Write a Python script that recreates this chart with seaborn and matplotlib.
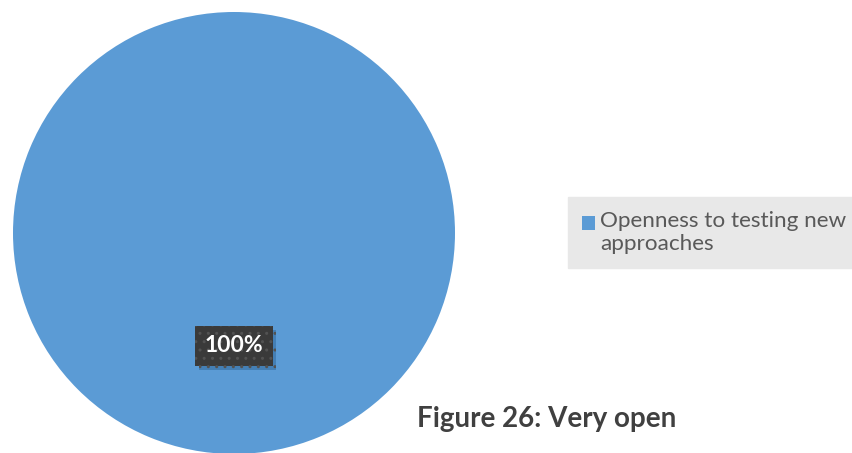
import matplotlib
matplotlib.use("Agg")
import matplotlib.pyplot as plt
import matplotlib.patheffects as pe
from matplotlib.patches import Rectangle
from matplotlib.legend_handler import HandlerPatch
import seaborn as sns

# Survey result: share of respondents per answer
categories = ["Openness to testing new\napproaches"]
shares = [100]
title_text = "Figure 26: Very open"

sns.set_theme(style="white")
plt.rcParams["font.family"] = ["Lato", "DejaVu Sans"]
colors = sns.color_palette(["#5b9bd5"])

W, H = 853, 453
fig = plt.figure(figsize=(W / 100, H / 100), dpi=100)
fig.patch.set_facecolor("white")

# pie axes placed in pixel space: circle centre (234, 233), radius 221
cx, cy, r = 234, 233, 221
ax = fig.add_axes([(cx - r) / W, (H - cy - r) / H, 2 * r / W, 2 * r / H])
wedges, _, autotexts = ax.pie(
    shares,
    colors=colors,
    startangle=90,
    counterclock=False,
    autopct=lambda p: f"{p:.0f}%",
    pctdistance=0.51,
    radius=1.0,
    wedgeprops=dict(linewidth=0),
)
ax.set_xlim(-1, 1)
ax.set_ylim(-1, 1)
ax.set_aspect("equal")
ax.axis("off")

for t in autotexts:
    t.set_color("white")
    t.set_fontsize(16.5)
    t.set_fontweight("bold")
    t.set_bbox(dict(boxstyle="square,pad=0.42", facecolor="#3a3a3a",
                    edgecolor="#525252", hatch="..", linewidth=0))
    t.get_bbox_patch().set_path_effects(
        [pe.SimplePatchShadow(offset=(2.5, -3), shadow_rgbFace="#3f78ad", alpha=0.8),
         pe.Normal()])


def square_marker(legend, orig_handle, xdescent, ydescent, width, height, fontsize):
    # square swatch sitting on the first text line
    side = width
    return Rectangle((-xdescent, -ydescent + 0.46 * fontsize), side, side)


leg = fig.legend(
    wedges, categories,
    loc="upper left",
    bbox_to_anchor=(568 / W, (H - 272) / H, 300 / W, 75 / H),
    mode="expand",
    fontsize=16.2,
    frameon=True,
    fancybox=False,
    facecolor="#e8e8e8",
    edgecolor="#e8e8e8",
    framealpha=1,
    borderpad=0.62,
    handlelength=0.6,
    handleheight=0.6,
    handletextpad=0.2,
    borderaxespad=0,
    handler_map={wedges[0]: HandlerPatch(patch_func=square_marker)},
)
for txt in leg.get_texts():
    txt.set_color("#595959")
    txt.set_linespacing(1.22)

fig.text(417 / W, 1 - 427 / H, title_text, fontsize=20, fontweight="bold",
         color="#404040", ha="left", va="baseline")

fig.savefig("out.png", dpi=100, facecolor="white")
